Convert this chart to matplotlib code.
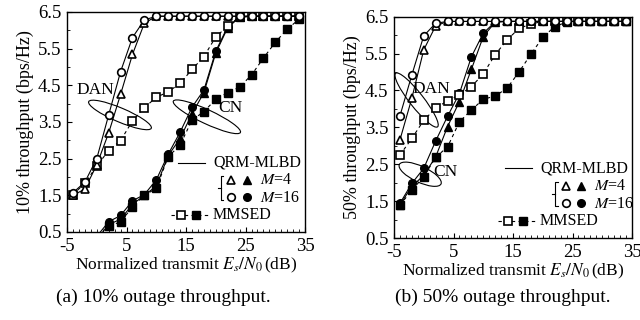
import numpy as np
import matplotlib
matplotlib.use("Agg")
import matplotlib.pyplot as plt
import matplotlib.transforms as mtransforms
from matplotlib.patches import Ellipse

plt.rcParams['font.family'] = ['Liberation Serif', 'DejaVu Serif']
plt.rcParams['mathtext.fontset'] = 'stix'
plt.rcParams['axes.unicode_minus'] = False

# SNR points (dB)
snr = list(range(-4, 36, 2))
nan = np.nan

# (a) 10% outage throughput
dan_m4_a = [1.50, 1.67, 2.33, 3.20, 4.25, 5.34, 6.19] + [6.38] * 13
dan_m16_a = [1.57, 1.86, 2.50, 3.69, 4.87, 5.80, 6.28] + [6.38] * 13
dan_mmsed_a = [1.52, 1.83, 2.30, 2.72, 2.99, 3.53, 3.89, 4.17, 4.32, 4.55,
               4.93, 5.28, 5.82, 6.11, 6.37] + [6.38] * 5
cn_m4_a = [nan, nan, 0.30, 0.70, 0.85, 1.25, 1.50, 1.75, 2.58, 3.05,
           3.72, 4.30, 5.38, 6.07, 6.35] + [6.38] * 5
cn_m16_a = [nan, nan, 0.38, 0.78, 0.95, 1.35, 1.52, 1.92, 2.62, 3.22,
            3.90, 4.37, 5.43, 6.10, 6.36] + [6.38] * 5
cn_mmsed_a = [nan, nan, 0.25, 0.65, 0.78, 1.18, 1.50, 1.69, 2.55, 2.87,
              3.55, 3.78, 4.12, 4.30, 4.45, 4.78, 5.24, 5.67, 6.03, 6.30]

# (b) 50% outage throughput
dan_m4_b = [3.16, 4.29, 5.60, 6.25] + [6.37] * 16
dan_m16_b = [3.81, 4.92, 5.98, 6.32] + [6.37] * 16
dan_mmsed_b = [2.75, 3.20, 3.69, 4.02, 4.22, 4.38, 4.60, 4.95, 5.47, 5.87,
               6.18, 6.30] + [6.37] * 8
cn_m4_b = [1.40, 1.90, 2.20, 2.70, 3.52, 4.20, 5.07, 5.96, 6.35] + [6.37] * 11
cn_m16_b = [1.44, 1.98, 2.39, 3.13, 3.80, 4.42, 5.41, 6.05, 6.36] + [6.37] * 11
cn_mmsed_b = [1.39, 1.80, 2.16, 2.69, 2.97, 3.65, 3.97, 4.26, 4.35, 4.56,
              5.00, 5.48, 5.94, 6.23, 6.35] + [6.37] * 5

x_ticks = [-5, 5, 15, 25, 35]
y_ticks = [0.5, 1.5, 2.5, 3.5, 4.5, 5.5, 6.5]

LW = 0.8
MS = 5.5
FS = 12.5
LFS = 11.5


def loop(ax, x, y, w, h, ang):
    # ellipse sized in pixels, centred on a data point
    tr = ax.figure.dpi_scale_trans + mtransforms.ScaledTranslation(x, y, ax.transData)
    ax.add_patch(Ellipse((0, 0), w / 100, h / 100, angle=ang, transform=tr,
                         fill=False, lw=LW, color='black', clip_on=False))


def panel(ax, data, ylabel):
    dm4, dm16, dmm, cm4, cm16, cmm = data
    ax.plot(snr, cmm, '--', color='black', lw=LW, marker='s', ms=MS,
            mfc='black', mec='black', dashes=(3, 3))
    ax.plot(snr, cm4, '-', color='black', lw=LW, marker='^', ms=MS, mfc='black', mec='black')
    ax.plot(snr, cm16, '-', color='black', lw=LW, marker='o', ms=MS, mfc='black', mec='black')
    ax.plot(snr, dmm, '--', color='black', lw=LW, marker='s', ms=MS,
            mfc='white', mec='black', mew=1.2, dashes=(3, 3))
    ax.plot(snr, dm4, '-', color='black', lw=LW, marker='^', ms=MS, mfc='white', mec='black', mew=1.2)
    ax.plot(snr, dm16, '-', color='black', lw=LW, marker='o', ms=MS, mfc='white', mec='black', mew=1.2)

    ax.set_xlim(-5, 35)
    ax.set_ylim(0.5, 6.5)
    ax.set_xticks(x_ticks)
    ax.set_xticks(range(-5, 36), minor=True)
    ax.set_yticks(y_ticks)
    ax.set_yticks(np.arange(0.5, 6.6, 0.5), minor=True)
    ax.tick_params(which='both', direction='in', top=False, right=False, labelsize=13.5)
    ax.tick_params(which='major', length=3.5, pad=4)
    ax.tick_params(which='minor', length=2.5)
    ax.set_xlabel(r'Normalized transmit $E_s/N_0\,$(dB)', fontsize=FS, labelpad=1)
    ax.set_ylabel(ylabel, fontsize=13, labelpad=3)
    for s in ax.spines.values():
        s.set_linewidth(1.0)


def legend(ax, bx):
    t = ax.transAxes
    ax.plot([0.465, 0.58], [0.315, 0.315], '-', color='black', lw=LW, transform=t, clip_on=False)
    ax.text(0.613, 0.315, 'QRM-MLBD', transform=t, fontsize=LFS, va='center')
    ax.plot([bx + 0.012, bx, bx, bx + 0.012], [0.255, 0.255, 0.145, 0.145], '-',
            color='black', lw=LW, transform=t, clip_on=False)
    ax.plot([bx - 0.012, bx], [0.2, 0.2], '-', color='black', lw=LW, transform=t, clip_on=False)
    ax.plot([bx + 0.045], [0.235], '^', ms=MS, mfc='white', mec='black', mew=1.2, transform=t, clip_on=False)
    ax.plot([bx + 0.11], [0.235], '^', ms=MS, mfc='black', mec='black', transform=t, clip_on=False)
    ax.plot([bx + 0.045], [0.16], 'o', ms=MS, mfc='white', mec='black', mew=1.2, transform=t, clip_on=False)
    ax.plot([bx + 0.11], [0.16], 'o', ms=MS, mfc='black', mec='black', transform=t, clip_on=False)
    ax.text(bx + 0.165, 0.235, '$M$=4', transform=t, fontsize=LFS, va='center')
    ax.text(bx + 0.165, 0.155, '$M$=16', transform=t, fontsize=LFS, va='center')
    ax.plot([0.435, 0.595], [0.075, 0.075], '--', color='black', lw=LW, dashes=(3, 3),
            transform=t, clip_on=False)
    ax.plot([0.48], [0.075], 's', ms=MS, mfc='white', mec='black', mew=1.2, transform=t, clip_on=False)
    ax.plot([0.54], [0.075], 's', ms=MS, mfc='black', mec='black', transform=t, clip_on=False)
    ax.text(0.613, 0.075, 'MMSED', transform=t, fontsize=LFS, va='center')


fig = plt.figure(figsize=(6.4, 3.2), dpi=100)
ax1 = fig.add_axes([0.1047, 0.275, 0.372, 0.688])
ax2 = fig.add_axes([0.6156, 0.256, 0.372, 0.692])

panel(ax1, [dan_m4_a, dan_m16_a, dan_mmsed_a, cn_m4_a, cn_m16_a, cn_mmsed_a],
      '10% throughput (bps/Hz)')
panel(ax2, [dan_m4_b, dan_m16_b, dan_mmsed_b, cn_m4_b, cn_m16_b, cn_mmsed_b],
      '50% throughput (bps/Hz)')
legend(ax1, 0.645)
legend(ax2, 0.676)

# group annotations
loop(ax1, 3.9, 3.69, 68, 14, -23)
ax1.text(-0.3, 4.37, 'DAN', fontsize=FS, ha='center', va='center')
loop(ax1, 18.5, 3.64, 74, 14, -25)
ax1.text(22.4, 3.88, 'CN', fontsize=FS, ha='center', va='center')

loop(ax2, -1.2, 4.24, 68, 14, -52)
ax2.text(1.3, 4.53, 'DAN', fontsize=FS, ha='center', va='center')
loop(ax2, -0.6, 2.23, 46, 16, -25)
ax2.text(3.7, 2.3, 'CN', fontsize=FS, ha='center', va='center')

fig.text(0.255, 0.072, '(a) 10% outage throughput.', fontsize=14, ha='center', va='center')
fig.text(0.786, 0.072, '(b) 50% outage throughput.', fontsize=14, ha='center', va='center')

fig.savefig('out.png', dpi=100)
